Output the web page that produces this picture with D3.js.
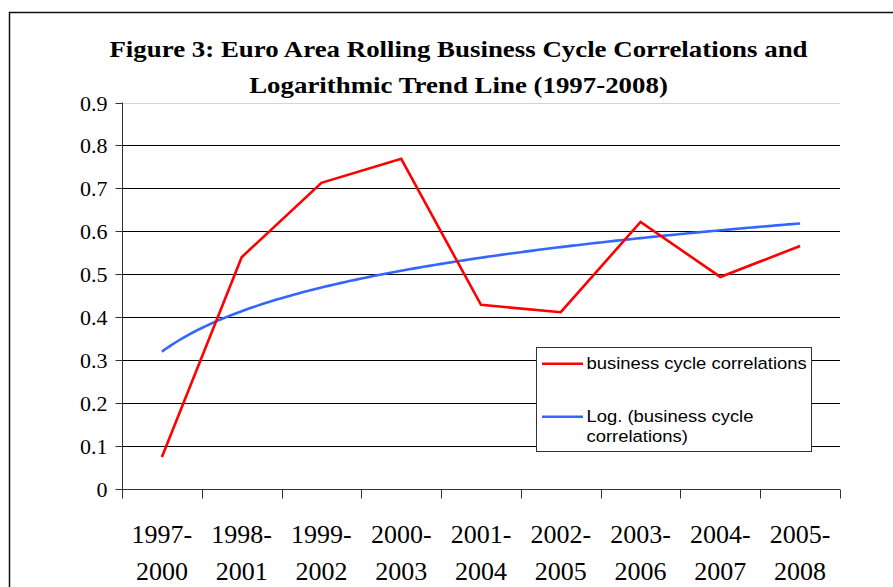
<!DOCTYPE html>
<html>
<head>
<meta charset="utf-8">
<script src="https://cdn.jsdelivr.net/npm/d3@7"></script>
<style>
  body { margin: 0; background: #fff; }
  svg { display: block; }
</style>
</head>
<body>
<div id="chart"></div>
<script>
// rolling windows on the x axis
var periods = ["1997-2000", "1998-2001", "1999-2002", "2000-2003", "2001-2004",
  "2002-2005", "2003-2006", "2004-2007", "2005-2008"];
// business cycle correlations
var correlations = [0.075, 0.540, 0.713, 0.769, 0.429, 0.412, 0.622, 0.494, 0.566];
var yTicks = [0, 0.1, 0.2, 0.3, 0.4, 0.5, 0.6, 0.7, 0.8, 0.9];
var titleLines = ["Figure 3: Euro Area Rolling Business Cycle Correlations and",
  "Logarithmic Trend Line (1997-2008)"];
var legendLabels = [["business cycle correlations"], ["Log. (business cycle", "correlations)"]];

var width = 893, height = 587;
var margin = {top: 102.5, left: 122, right: 53, bottom: 97.5};

var svg = d3.select("#chart").append("svg")
  .attr("width", width)
  .attr("height", height);

svg.append("rect").attr("width", width).attr("height", height).style("fill", "white");

// outer chart frame (runs off the right and bottom of the picture)
svg.append("rect")
  .attr("x", 9.5).attr("y", 12.5)
  .attr("width", 1000).attr("height", 1000)
  .style("fill", "none").style("stroke", "#111").style("stroke-width", 1.5);

// title (the original figure is slightly stretched horizontally)
var titleX = 458.5;
svg.append("g")
  .attr("transform", "translate(" + titleX + ",0) scale(1.12,1)")
  .selectAll(".title")
  .data(titleLines)
  .enter()
  .append("text")
  .attr("class", "title")
  .attr("x", 0)
  .attr("y", (d, i) => 57 + i * 36)
  .attr("text-anchor", "middle")
  .style("font-family", "'Liberation Serif', 'Times New Roman', serif")
  .style("font-weight", "bold")
  .style("font-size", "24px")
  .text(d => d);

var xBand = d3.scaleBand()
  .domain(periods)
  .range([margin.left, width - margin.right]);

var y = d3.scaleLinear()
  .domain([0, 0.9])
  .range([height - margin.bottom - 0.3, margin.top]);

var xMid = d => xBand(d) + xBand.bandwidth() / 2;

// horizontal grid lines
svg.append("g")
  .selectAll("line")
  .data(yTicks.filter(d => d > 0))
  .enter()
  .append("line")
  .attr("x1", margin.left)
  .attr("x2", width - margin.right)
  .attr("y1", d => Math.round(y(d)) + 0.5)
  .attr("y2", d => Math.round(y(d)) + 0.5)
  .style("stroke", d => d === 0.9 ? "#d4d4d4" : "#000")
  .style("stroke-width", 1);

// y axis
var yAxis = svg.append("g")
  .attr("transform", "translate(" + (margin.left + 0.5) + ",0)")
  .call(d3.axisLeft(y).tickValues(yTicks).tickSize(7).tickPadding(8)
    .tickFormat(d => d === 0 ? "0" : d3.format(".1f")(d)));
yAxis.selectAll("path, line").style("stroke", "#333");
yAxis.select(".domain").attr("d", "M0," + y(0.9) + "V" + y(0));
yAxis.selectAll(".tick").attr("transform", d => "translate(0," + (Math.round(y(d)) + 0.5) + ")");
yAxis.selectAll("text")
  .style("font-family", "'Liberation Serif', 'Times New Roman', serif")
  .style("font-size", "22px")
  .style("fill", "#000");

// x axis with ticks on the category boundaries
var x0 = Math.round(y(0)) + 0.5;
var xAxis = svg.append("g");
xAxis.append("line")
  .attr("x1", margin.left).attr("x2", width - margin.right)
  .attr("y1", x0).attr("y2", x0)
  .style("stroke", "#333");
xAxis.selectAll(".xtick")
  .data(periods.concat(["end"]))
  .enter()
  .append("line")
  .attr("class", "xtick")
  .attr("x1", (d, i) => Math.round(i < periods.length ? xBand(d) : width - margin.right) + 0.5)
  .attr("x2", (d, i) => Math.round(i < periods.length ? xBand(d) : width - margin.right) + 0.5)
  .attr("y1", x0).attr("y2", x0 + 9)
  .style("stroke", "#333");

var xLabels = xAxis.selectAll(".xlabel")
  .data(periods)
  .enter()
  .append("text")
  .attr("class", "xlabel")
  .attr("text-anchor", "middle")
  .style("font-family", "'Liberation Serif', 'Times New Roman', serif")
  .style("font-size", "26px");
xLabels.append("tspan")
  .attr("x", d => xMid(d))
  .attr("y", 543)
  .text(d => d.split("-")[0] + "-");
xLabels.append("tspan")
  .attr("x", d => xMid(d))
  .attr("y", 580)
  .text(d => d.split("-")[1]);

// logarithmic trend line: least squares fit of value on ln(position)
var lnX = periods.map((d, i) => Math.log(i + 1));
var meanL = d3.mean(lnX), meanY = d3.mean(correlations);
var sxy = d3.sum(lnX, (l, i) => (l - meanL) * (correlations[i] - meanY));
var sxx = d3.sum(lnX, l => (l - meanL) * (l - meanL));
var slope = sxy / sxx, intercept = meanY - slope * meanL;

var xCont = d3.scaleLinear().domain([1, periods.length])
  .range([xMid(periods[0]), xMid(periods[periods.length - 1])]);
var trendPoints = d3.range(1, periods.length + 0.001, 0.05);

svg.append("path")
  .datum(trendPoints)
  .attr("d", d3.line().x(t => xCont(t)).y(t => y(intercept + slope * Math.log(t))))
  .style("fill", "none")
  .style("stroke", "#3366ff")
  .style("stroke-width", 2.6);

svg.append("path")
  .datum(correlations)
  .attr("d", d3.line().x((d, i) => xMid(periods[i])).y(d => y(d)))
  .style("fill", "none")
  .style("stroke", "#ff0000")
  .style("stroke-width", 2.6)
  .style("stroke-linejoin", "miter");

// legend
var legend = svg.append("g");
legend.append("rect")
  .attr("x", 536.5).attr("y", 347.5)
  .attr("width", 275).attr("height", 104)
  .style("fill", "white")
  .style("stroke", "#333").style("stroke-width", 1);

var legendColours = ["#ff0000", "#3366ff"];
var legendItems = legend.selectAll(".item")
  .data(legendLabels)
  .enter()
  .append("g")
  .attr("class", "item")
  .attr("transform", (d, i) => "translate(0," + (i * 53) + ")");
legendItems.append("line")
  .attr("x1", 542).attr("x2", 583)
  .attr("y1", 363.7).attr("y2", 363.7)
  .style("stroke", (d, i) => legendColours[i])
  .style("stroke-width", 2.6);
legendItems.append("g")
  .attr("transform", "translate(586.5,0) scale(1.085,1)")
  .append("text")
  .style("font-family", "'Liberation Sans', Arial, sans-serif")
  .style("font-size", "17px")
  .selectAll("tspan")
  .data(d => d)
  .enter()
  .append("tspan")
  .attr("x", 0)
  .attr("y", (d, i) => 369.5 + i * 20)
  .text(d => d);
</script>
</body>
</html>
